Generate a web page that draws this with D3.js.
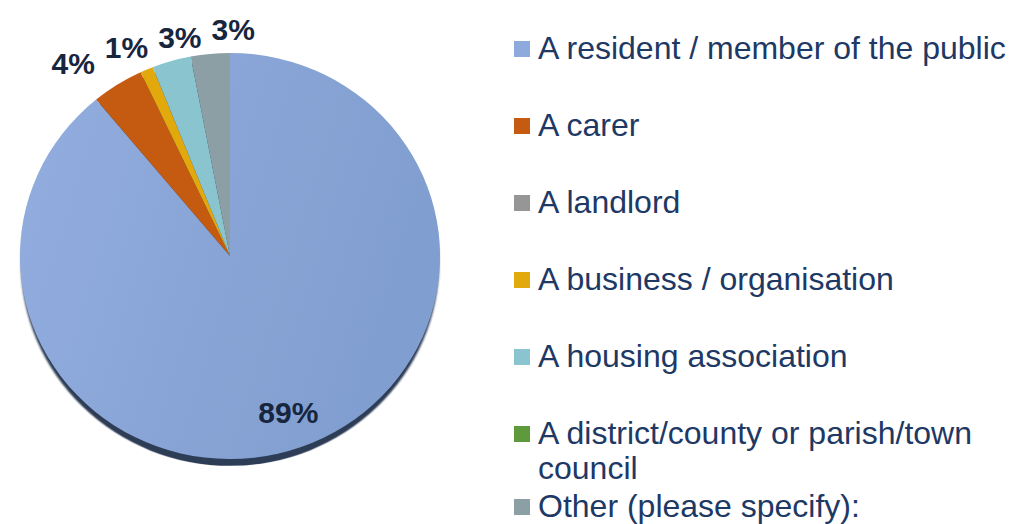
<!doctype html>
<html>
<head>
<meta charset="utf-8">
<style>
    body { margin: 0; background: #fff; }
    svg { display: block; font-family: "Liberation Sans", Arial, sans-serif; }
</style>
<script src="https://d3js.org/d3.v7.min.js"></script>
</head>
<body>
<svg width="1012" height="524"></svg>
<script>
    var categories = ["A resident / member of the public", "A carer", "A landlord",
                      "A business / organisation", "A housing association",
                      "A district/county or parish/town council", "Other (please specify):"];
    var values = [89, 4, 0, 1, 3, 0, 3];
    var colors = ["#8EA9DB", "#C55A11", "#969696", "#E2A90C", "#8AC4CF", "#5E9A3C", "#8C9FA4"];

    var svg = d3.select("svg"),
        W = +svg.attr("width"),
        H = +svg.attr("height");

    var cx = 230, cy = 256, r = 210, sy = 0.967;   // slightly tilted pie

    var data = categories.map(function(c, i) { return { name: c, value: values[i], color: colors[i] }; });

    var defs = svg.append("defs");
    var grad = defs.append("linearGradient").attr("id", "blueGrad")
        .attr("x1", "0%").attr("y1", "0%").attr("x2", "100%").attr("y2", "30%");
    grad.append("stop").attr("offset", "0%").attr("stop-color", "#93ADDF");
    grad.append("stop").attr("offset", "100%").attr("stop-color", "#809ECF");
    defs.append("filter").attr("id", "soft")
        .append("feGaussianBlur").attr("stdDeviation", 0.8);

    var pie = d3.pie().sort(null).value(function(d) { return d.value; });
    var arcs = pie(data);
    var arc = d3.arc().innerRadius(0).outerRadius(r);

    var g = svg.append("g")
        .attr("transform", "translate(" + cx + "," + cy + ") scale(1," + sy + ")");

    // dark rim under the pie
    g.append("ellipse")
        .attr("cx", 0).attr("cy", 7).attr("rx", r - 1).attr("ry", r)
        .attr("fill", "#2F3E57")
        .attr("filter", "url(#soft)");

    g.selectAll("path.slice")
        .data(arcs.filter(function(a) { return a.value > 0; }))
        .enter().append("path")
        .attr("class", "slice")
        .attr("d", arc)
        .attr("fill", function(d, i) { return d.index === 0 ? "url(#blueGrad)" : d.data.color; });

    // labels
    var inArc = d3.arc().innerRadius(r * 0.82).outerRadius(r * 0.82);
    var outArc = d3.arc().innerRadius(r * 1.12).outerRadius(r * 1.12);

    var labels = arcs.filter(function(a) { return a.value > 0; }).map(function(a) {
        var inside = a.value > 20;
        var c = (inside ? inArc : outArc).centroid(a);
        return { text: a.value + "%", x: cx + c[0], y: cy + c[1] * sy, inside: inside };
    });

    var lab = svg.selectAll("text.lab")
        .data(labels)
        .enter().append("text")
        .attr("class", "lab")
        .attr("text-anchor", "middle")
        .attr("dy", "0.35em")
        .attr("font-size", "30px")
        .attr("font-weight", "bold")
        .attr("fill", "#17253E")
        .text(function(d) { return d.text; });

    lab.each(function(d) {
        var b = this.getBBox();
        d.w = b.width; d.h = b.height * 0.75;
    });

    // push overlapping outside labels apart sideways
    var outs = labels.filter(function(d) { return !d.inside; });
    for (var it = 0; it < 200; it++) {
        outs.sort(function(a, b) { return a.x - b.x; });
        for (var k = 0; k < outs.length - 1; k++) {
            var a = outs[k], b = outs[k + 1];
            var need = (a.w + b.w) / 2 + 10;
            if (b.x - a.x < need && Math.abs(a.y - b.y) < (a.h + b.h) / 2) {
                var push = (need - (b.x - a.x)) / 2;
                a.x -= push; b.x += push;
            }
        }
    }

    lab.attr("x", function(d) { return d.x; })
       .attr("y", function(d) { return d.y; });

    // legend
    var legX = 514, box = 16, textX = 538, step = 77, lineH = 35, maxW = W - textX + 4;
    var cursor = 59;
    var leg = svg.append("g").attr("class", "legend");

    data.forEach(function(d) {
        var t = leg.append("text")
            .attr("x", textX)
            .attr("font-size", "32px")
            .attr("fill", "#203864");
        var words = d.name.split(" "), line = [], lines = [];
        var tmp = t.append("tspan");
        words.forEach(function(w) {
            line.push(w);
            tmp.text(line.join(" "));
            if (tmp.node().getComputedTextLength() > maxW && line.length > 1) {
                line.pop();
                lines.push(line.join(" "));
                line = [w];
            }
        });
        lines.push(line.join(" "));
        tmp.remove();

        var base = Math.min(cursor, H - 7);
        lines.forEach(function(s, j) {
            t.append("tspan").attr("x", textX).attr("y", base + j * lineH).text(s);
        });
        leg.append("rect")
            .attr("x", legX).attr("y", base - 18)
            .attr("width", box).attr("height", box)
            .attr("fill", d.color);
        cursor = base + (lines.length - 1) * lineH + step;
    });
</script>
</body>
</html>
